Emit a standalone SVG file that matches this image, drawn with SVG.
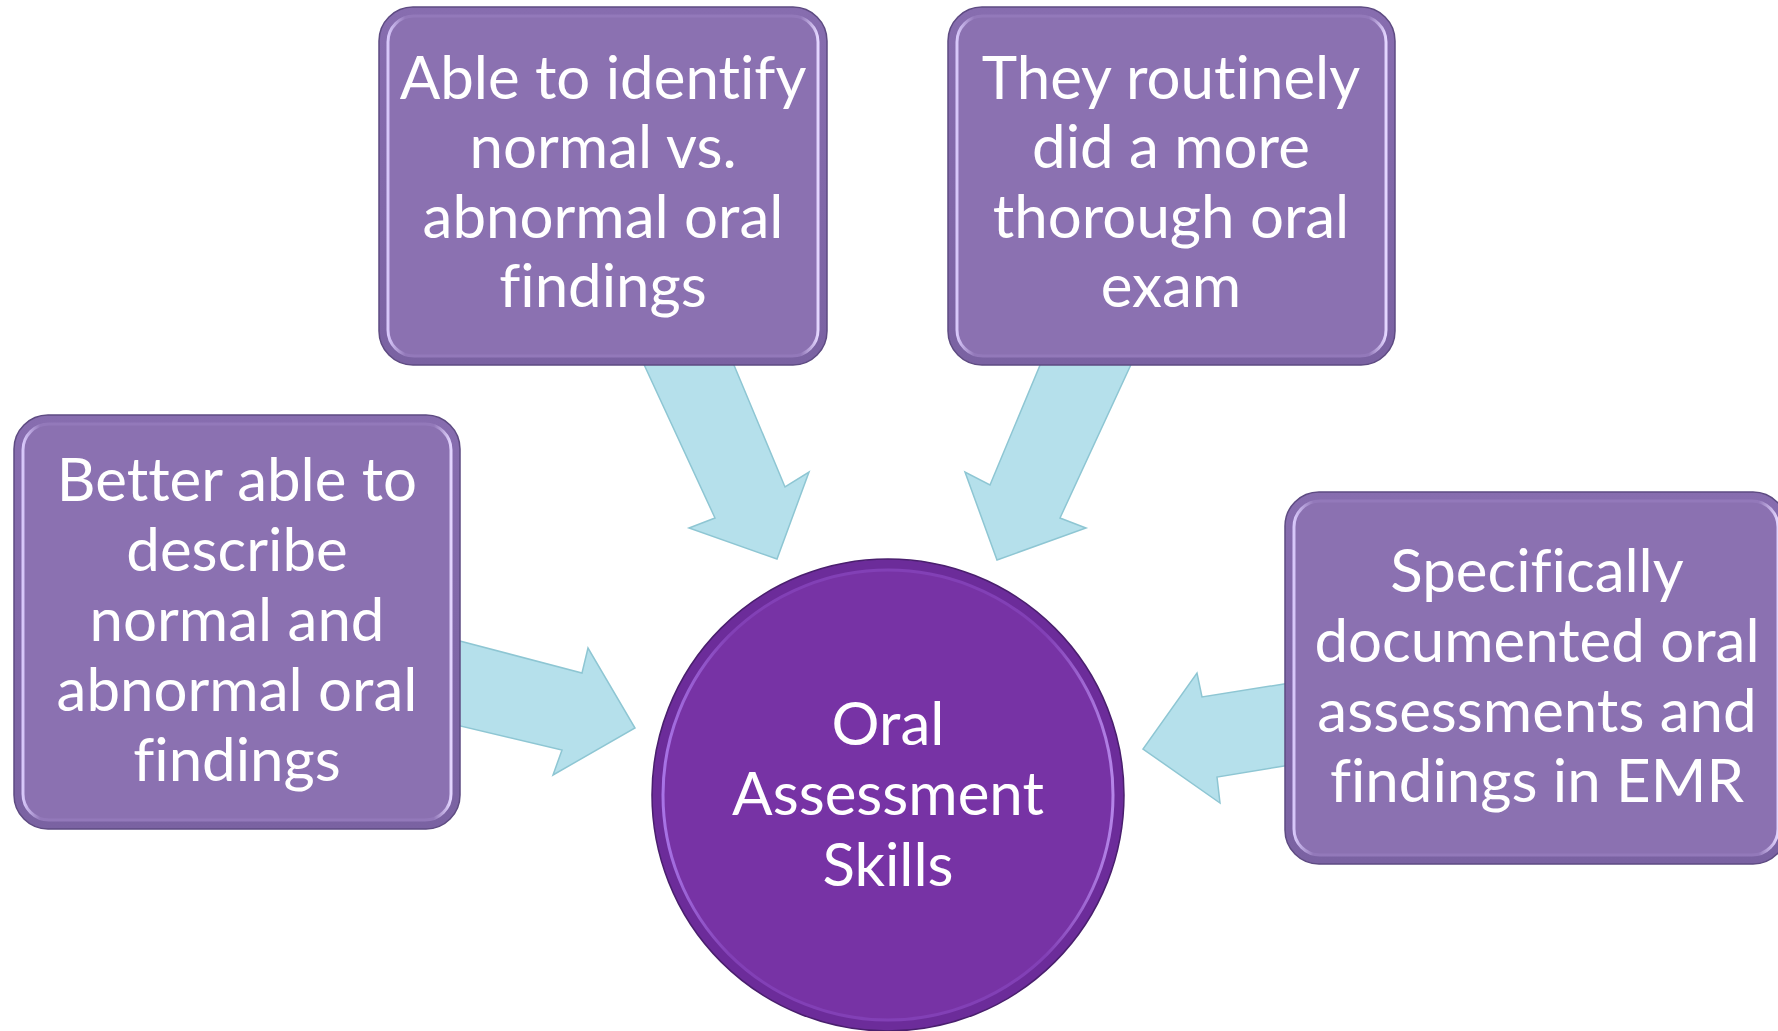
<svg xmlns="http://www.w3.org/2000/svg" width="1778" height="1031" viewBox="0 0 1778 1031">
<defs>
<linearGradient id="boxRim" x1="0" y1="0" x2="1" y2="0">
<stop offset="0" stop-color="#d8c8fa"/>
<stop offset="0.04" stop-color="#9379ba"/>
<stop offset="0.96" stop-color="#9379ba"/>
<stop offset="1" stop-color="#e4d6ff"/>
</linearGradient>
<linearGradient id="boxOuter" x1="0" y1="0" x2="0" y2="1">
<stop offset="0" stop-color="#876daf"/>
<stop offset="1" stop-color="#7a62a2"/>
</linearGradient>
<linearGradient id="circRim" x1="0" y1="0" x2="1" y2="0">
<stop offset="0" stop-color="#a874e6"/>
<stop offset="0.15" stop-color="#8240b6"/>
<stop offset="0.85" stop-color="#8240b6"/>
<stop offset="1" stop-color="#b484e8"/>
</linearGradient>
<style>
.box-outer{fill:url(#boxOuter);stroke:#5e4b82;stroke-width:1.5}
.box-inner{fill:#8b71b1;stroke:url(#boxRim);stroke-width:3}
.arrow{fill:#b5e0eb;stroke:#8ec6d3;stroke-width:1.5;stroke-linejoin:miter}
.lbl{font-family:Lato,"Open Sans","Liberation Sans",sans-serif;font-size:60px;fill:#ffffff;text-anchor:middle;font-variant-ligatures:none}
</style>
</defs>
<rect width="1778" height="1031" fill="#ffffff"/>
<g id="connectors">
<polygon class="arrow" points="456,640 582,673 588,648 635,728 553,775 562,750 456,725"/>
<polygon class="arrow" points="641,358 731,358 785,487 809,472 777,559 689,528 715,518"/>
<polygon class="arrow" points="1043,358 1134,358 1060,518 1086,528 997,560 965,472 990,485"/>
<polygon class="arrow" points="1290,683 1202,697 1197,673 1143,749 1220,803 1217,777 1290,765"/>
</g>
<g id="node-top-left">
<rect class="box-outer" x="379" y="7" width="448" height="358" rx="34"/>
<rect class="box-inner" x="388" y="16" width="430" height="340" rx="26"/>
<text class="lbl"><tspan x="603" y="99">Able to identify</tspan><tspan x="603" y="168">normal vs.</tspan><tspan x="603" y="238">abnormal oral</tspan><tspan x="603" y="307">findings</tspan></text>
</g>
<g id="node-top-right">
<rect class="box-outer" x="948" y="7" width="447" height="358" rx="34"/>
<rect class="box-inner" x="957" y="16" width="429" height="340" rx="26"/>
<text class="lbl"><tspan x="1171" y="99">They routinely</tspan><tspan x="1171" y="168">did a more</tspan><tspan x="1171" y="238">thorough oral</tspan><tspan x="1171" y="307">exam</tspan></text>
</g>
<g id="node-left">
<rect class="box-outer" x="14" y="415" width="446" height="414" rx="34"/>
<rect class="box-inner" x="23" y="424" width="428" height="396" rx="26"/>
<text class="lbl"><tspan x="237" y="501">Better able to</tspan><tspan x="237" y="571">describe</tspan><tspan x="237" y="641">normal and</tspan><tspan x="237" y="711">abnormal oral</tspan><tspan x="237" y="781">findings</tspan></text>
</g>
<g id="node-right">
<rect class="box-outer" x="1285" y="492" width="502" height="372" rx="34"/>
<rect class="box-inner" x="1294" y="501" width="484" height="354" rx="26"/>
<text class="lbl"><tspan x="1537" y="592">Specifically</tspan><tspan x="1537" y="662">documented oral</tspan><tspan x="1537" y="732">assessments and</tspan><tspan x="1537" y="802">findings in EMR</tspan></text>
</g>
<g id="node-center">
<circle cx="888" cy="795" r="236" fill="#6c2c9a" stroke="#4a1f6e" stroke-width="1.5"/>
<circle cx="888" cy="795" r="225" fill="#7733a5" stroke="url(#circRim)" stroke-width="3"/>
<text class="lbl"><tspan x="888" y="745">Oral</tspan><tspan x="888" y="815">Assessment</tspan><tspan x="888" y="886">Skills</tspan></text>
</g>
</svg>
